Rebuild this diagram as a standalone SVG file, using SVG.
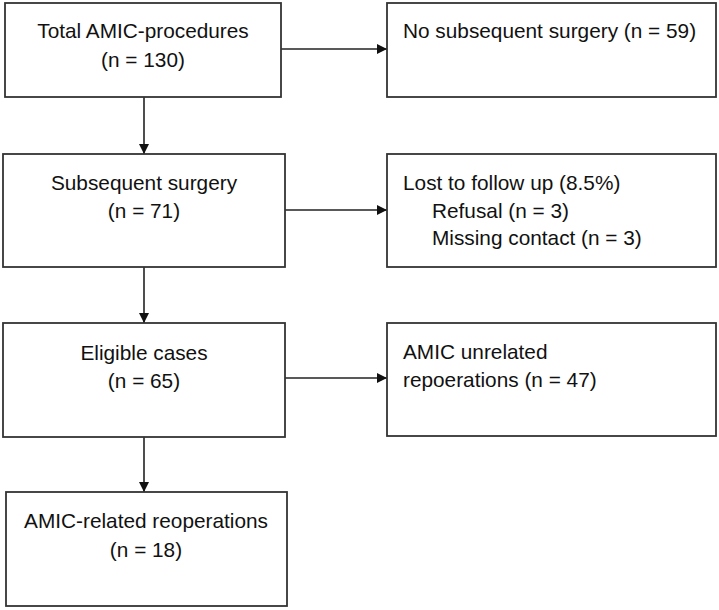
<svg xmlns="http://www.w3.org/2000/svg" width="719" height="610" viewBox="0 0 719 610">
<style>
.box{fill:#fff;stroke:#333;stroke-width:1.8}
.t{font-family:"Liberation Sans",Arial,sans-serif;font-size:20.8px;fill:#111}
.c{text-anchor:middle}
.ln{stroke:#222;stroke-width:1.6;fill:none;marker-end:url(#ah)}
</style>
<defs>
<marker id="ah" markerWidth="10" markerHeight="10" refX="10" refY="5" orient="auto" markerUnits="userSpaceOnUse">
<path d="M0,0 L10,5 L0,10 Z" fill="#111"/>
</marker>
</defs>
<rect width="719" height="610" fill="#fff"/>
<g id="connectors">
<line class="ln" x1="281" y1="49" x2="387" y2="49"/>
<line class="ln" x1="144" y1="97" x2="144" y2="154"/>
<line class="ln" x1="285" y1="210" x2="387" y2="210"/>
<line class="ln" x1="144" y1="267" x2="144" y2="323"/>
<line class="ln" x1="285" y1="378" x2="387" y2="378"/>
<line class="ln" x1="144" y1="437" x2="144" y2="492"/>
</g>
<g id="n1">
<rect class="box" x="5" y="3" width="276" height="94"/>
<text class="t c" x="143" y="38">Total AMIC-procedures</text>
<text class="t c" x="143" y="67">(n = 130)</text>
</g>
<g id="n2">
<rect class="box" x="387" y="3" width="329" height="94"/>
<text class="t" x="403" y="38">No subsequent surgery (n = 59)</text>
</g>
<g id="n3">
<rect class="box" x="3" y="154" width="282" height="113"/>
<text class="t c" x="144" y="190">Subsequent surgery</text>
<text class="t c" x="144" y="218">(n = 71)</text>
</g>
<g id="n4">
<rect class="box" x="387" y="154" width="329" height="113"/>
<text class="t" x="403" y="190">Lost to follow up (8.5%)</text>
<text class="t" x="432" y="218">Refusal (n = 3)</text>
<text class="t" x="432" y="245">Missing contact (n = 3)</text>
</g>
<g id="n5">
<rect class="box" x="3" y="323" width="282" height="114"/>
<text class="t c" x="144" y="360">Eligible cases</text>
<text class="t c" x="144" y="388">(n = 65)</text>
</g>
<g id="n6">
<rect class="box" x="387" y="323" width="329" height="113"/>
<text class="t" x="403" y="359">AMIC unrelated</text>
<text class="t" x="403" y="387">repoerations (n = 47)</text>
</g>
<g id="n7">
<rect class="box" x="6" y="492" width="281" height="114"/>
<text class="t c" x="146" y="528">AMIC-related reoperations</text>
<text class="t c" x="146" y="557">(n = 18)</text>
</g>
</svg>
